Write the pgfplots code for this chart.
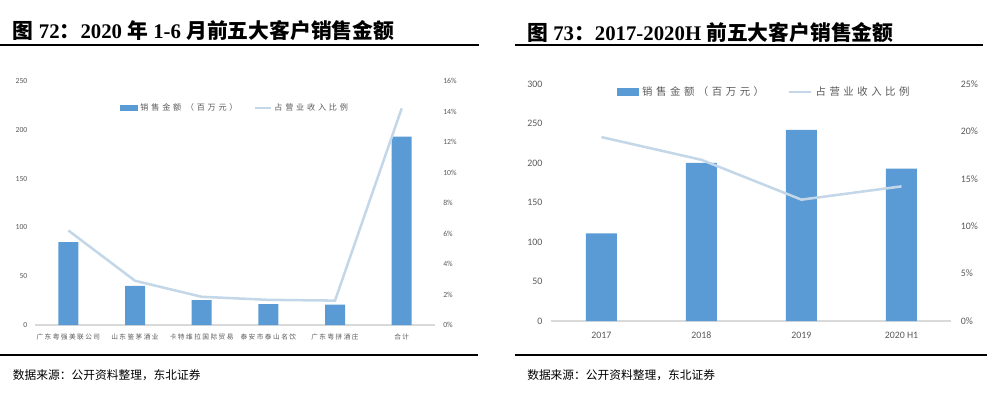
\documentclass[border=0pt]{standalone}
\usepackage{fontspec}
\usepackage{pgfplots}
\pgfplotsset{compat=1.18}
\setmainfont{Liberation Serif}
\newfontfamily\cjk{Noto Sans CJK SC}
\newfontfamily\cjksp{Noto Sans CJK SC}[LetterSpace=34]
\newfontfamily\cjkxt{Noto Sans CJK SC}[LetterSpace=22]
\newfontfamily\num{Carlito}
\definecolor{barblue}{HTML}{5B9BD5}
\definecolor{ratio}{HTML}{C4D7E9}
\definecolor{ticktext}{HTML}{595959}
\definecolor{axisgray}{HTML}{D9D9D9}

\pgfplotsset{
  common/.style={
    scale only axis, width=300pt, xmin=-0.5, clip=false,
    major tick length=0pt,
    /pgf/number format/assume math mode=true,
    ticklabel style={text=ticktext},
    yticklabel style={inner xsep=0pt},
  },
  barsaxis/.style={
    common, ymin=0,
    axis x line*=bottom, axis y line*=left,
    y axis line style={draw=none},
    x axis line style={draw=axisgray, line width=0.8pt},
    ybar, bar width=#1,
    yticklabel style={xshift=-5.5pt},
    xticklabel style={anchor=center, inner sep=0pt},
  },
  ratioaxis/.style={
    common, ymin=0,
    axis x line=none, axis y line*=right,
    y axis line style={draw=none},
    yticklabel={\pgfmathprintnumber{\tick}\%},
    yticklabel style={xshift=6pt},
    legend columns=2,
    legend style={draw=none, fill=none, inner sep=0pt,
      nodes={inner sep=0pt, text=ticktext}},
  },
  barkey/.style 2 args={legend image code/.code={%
    \fill[barblue] (0pt,-#2) rectangle (#1,#2);}},
  linekey/.style={legend image code/.code={%
    \draw[ratio, line width=1.6pt] (0pt,0pt) -- (#1,0pt);}},
}

\begin{document}
\begin{tikzpicture}
\useasboundingbox (0pt,0pt) rectangle (740.25pt,294.75pt);

% headings, rules and source lines
\node[anchor=west, inner sep=0pt, font=\fontsize{15.6}{15.6}\selectfont\bfseries]
  at (9.5pt,271.5pt) {{\cjk 图} 72{\cjk ：}2020 {\cjk 年} 1-6 {\cjk 月前五大客户销售金额}};
\node[anchor=west, inner sep=0pt, font=\fontsize{15.6}{15.6}\selectfont\bfseries]
  at (395.25pt,270.5pt) {{\cjk 图} 73{\cjk ：}2017-2020H {\cjk 前五大客户销售金额}};
\draw[line width=0.8pt] (0pt,261pt) -- (359pt,261pt);
\draw[line width=0.8pt] (386.25pt,261pt) -- (737.5pt,261pt);
\draw[line width=0.8pt] (0pt,28.5pt) -- (358.5pt,28.5pt);
\draw[line width=0.8pt] (386.25pt,28.5pt) -- (740pt,28.5pt);
\node[anchor=west, inner sep=0pt, font=\cjk\fontsize{8.8}{8.8}\selectfont]
  at (9.5pt,13.5pt) {数据来源：公开资料整理，东北证券};
\node[anchor=west, inner sep=0pt, font=\cjk\fontsize{8.8}{8.8}\selectfont]
  at (395.25pt,13.5pt) {数据来源：公开资料整理，东北证券};

% 2020 H1: top five customers
\begin{axis}[barsaxis=15pt, at={(26.25pt,51pt)}, anchor=south west,
  height=183pt, xmax=5.5, ymax=250, ytick={0,50,...,250},
  xtick={0,...,5},
  xticklabels={广东粤强美联公司,山东鉴茅酒业,卡特维拉国际贸易,泰安市泰山名饮,广东粤拼酒庄,合计},
  xticklabel style={yshift=-9pt, font=\cjkxt\fontsize{5}{5}\selectfont},
  yticklabel style={font=\num\fontsize{5.8}{5.8}\selectfont}]
\addplot[fill=barblue, draw=none] coordinates {
  (0,85) (1,40) (2,25.5) (3,21.5) (4,21) (5,193)};
\end{axis}
\begin{axis}[ratioaxis, at={(26.25pt,51pt)}, anchor=south west,
  height=183pt, xmax=5.5, ymax=16, ytick={0,2,...,16},
  yticklabel style={font=\num\fontsize{5.8}{5.8}\selectfont},
  legend style={at={(0.2125,0.889)}, anchor=west,
    font=\cjksp\fontsize{6.1}{6.1}\selectfont,
    /tikz/every odd column/.style={column sep=2pt},
    /tikz/every even column/.style={column sep=12pt}}]
\addlegendimage{barkey={12.75pt}{1.9pt}}
\addlegendentry{销售金额 （百万元）}
\addplot[ratio, line width=1.9pt, linekey=12pt] coordinates {
  (0,6.2) (1,2.9) (2,1.85) (3,1.65) (4,1.6) (5,14.2)};
\addlegendentry{占营业收入比例}
\end{axis}

% 2017 - 2020H1
\begin{axis}[barsaxis=23.25pt, at={(413.6pt,54pt)}, anchor=south west,
  height=177.75pt, xmax=3.5, ymax=300, ytick={0,50,...,300},
  xtick={0,...,3}, xticklabels={2017,2018,2019,2020 H1},
  xticklabel style={yshift=-10.5pt, font=\num\fontsize{7.4}{7.4}\selectfont},
  yticklabel style={xshift=-1.2pt, font=\num\fontsize{7.4}{7.4}\selectfont}]
\addplot[fill=barblue, draw=none] coordinates {
  (0,111) (1,200) (2,242) (3,193)};
\end{axis}
\begin{axis}[ratioaxis, at={(413.6pt,54pt)}, anchor=south west,
  height=177.75pt, xmax=3.5, ymax=25, ytick={0,5,...,25},
  yticklabel style={xshift=0.8pt, font=\num\fontsize{7.4}{7.4}\selectfont},
  legend style={at={(0.164,0.966)}, anchor=west,
    font=\cjksp\fontsize{7.8}{7.8}\selectfont,
    /tikz/every odd column/.style={column sep=2.5pt},
    /tikz/every even column/.style={column sep=18pt}}]
\addlegendimage{barkey={15.75pt}{2.6pt}}
\addlegendentry{销售金额（百万元）}
\addplot[ratio, line width=1.9pt, linekey=16.5pt] coordinates {
  (0,19.4) (1,17.0) (2,12.8) (3,14.2)};
\addlegendentry{占营业收入比例}
\end{axis}
\end{tikzpicture}
\end{document}
